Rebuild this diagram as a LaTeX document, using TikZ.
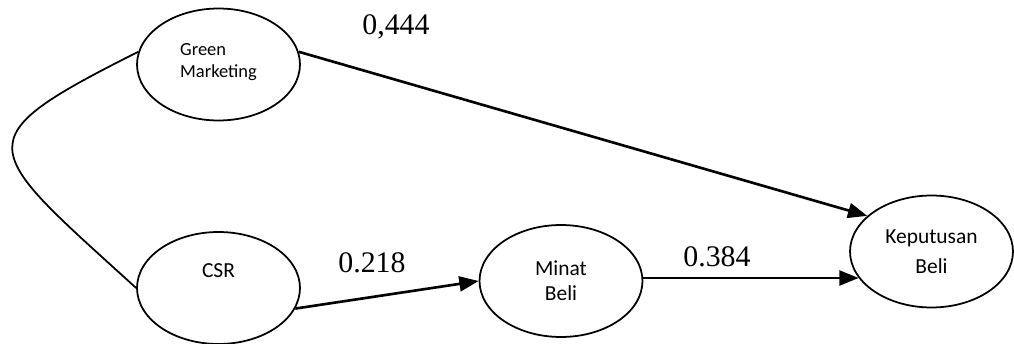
\documentclass[tikz,border=0pt]{standalone}
\usepackage{fontspec}
\setmainfont{Liberation Serif}
\newfontfamily\varfont{Carlito}
\usetikzlibrary{shapes.geometric, arrows.meta}
\definecolor{linecolor}{RGB}{0,0,0}

\begin{document}
\begin{tikzpicture}[x=0.02cm, y=-0.02cm,
  % Node styles
  varnode/.style={
    ellipse,
    draw=linecolor,
    line width=1pt,
    fill=white,
    minimum width=3.26cm,
    minimum height=2.24cm,
    inner sep=0pt,
    align=center,
    font=\varfont\fontsize{12.2}{14.2}\selectfont
  },
  coeflabel/.style={
    anchor=base,
    inner sep=0pt,
    font=\fontsize{17}{20}\selectfont
  },
  arrow/.style={
    -{Triangle[length=11pt, width=8.5pt]},
    line width=1.5pt,
    draw=linecolor
  },
  corr/.style={
    line width=1pt,
    draw=linecolor
  }
]
\useasboundingbox (0,0) rectangle (1014,344);

% ===== VARIABLES =====
\node[varnode, align=left, font=\varfont\fontsize{10.5}{12.5}\selectfont] (gm) at (218.5,64.5) {Green\\Marketing\\[-8pt]\mbox{}};
\node[varnode] (csr) at (218.5,288) {CSR\\[6pt]\mbox{}};
\node[varnode] (minat) at (561,281) {Minat\\Beli};
\node[varnode, font=\varfont\fontsize{12.2}{17}\selectfont] (kep) at (931.5,251.5) {Keputusan\\Beli};

% ===== CORRELATION CURVE =====
\draw[corr] (gm.171) .. controls +(-177,89) and +(-156,-142) .. (csr.west);

% ===== PATHS =====
\draw[arrow] (gm.9) -- (kep.151);
\draw[arrow] (csr.-15) -- (minat.west);
\draw[arrow] (kep.200 -| minat.east) -- (kep.200);

% ===== COEFFICIENTS =====
\node[coeflabel] (c_gm) at (396,35) {0,444};
\node[coeflabel] (c_csr) at (372,273) {0.218};
\node[coeflabel] (c_minat) at (717,267) {0.384};

\end{tikzpicture}
\end{document}
